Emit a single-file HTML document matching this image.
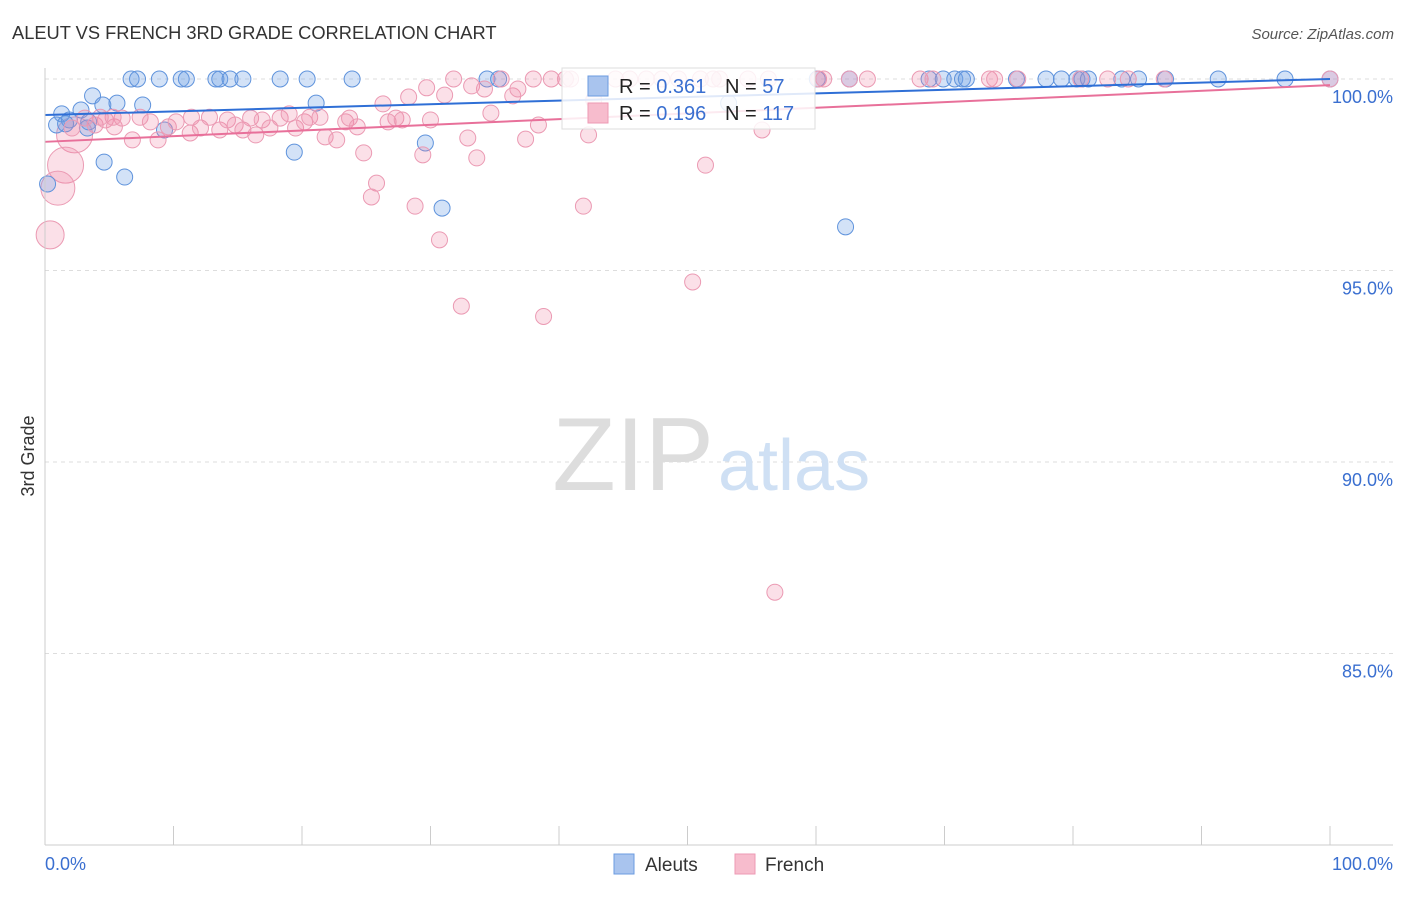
<!DOCTYPE html>
<html><head><meta charset="utf-8"><style>
body{margin:0;background:#fff;font-family:"Liberation Sans",sans-serif}
svg text{font-family:"Liberation Sans",sans-serif}
</style></head><body>
<svg id="chart" width="1406" height="892" viewBox="0 0 1406 892" xmlns="http://www.w3.org/2000/svg">
<text x="12" y="39" font-size="18.3" fill="#333">ALEUT VS FRENCH 3RD GRADE CORRELATION CHART</text>
<text x="1394" y="39" font-size="15" fill="#555" text-anchor="end" font-style="italic">Source: ZipAtlas.com</text>
<text x="34" y="456" font-size="18" fill="#333" text-anchor="middle" transform="rotate(-90 34 456)">3rd Grade</text>
<g id="grid"></g>
<text x="714" y="490" font-size="104" fill="#ddd" text-anchor="end" font-family="Liberation Serif">ZIP</text>
<text x="718" y="490" font-size="72" fill="#cfe0f4">atlas</text>
<g id="pts"></g>
<g id="lines"></g>
<g>
<rect x="562" y="68" width="253" height="61" fill="#fff" fill-opacity="0.85" stroke="#ddd"/>
<rect x="588" y="76" width="20" height="20" fill="#a9c4ee" stroke="#6b9be0"/>
<text x="619" y="93" font-size="20" fill="#222">R = <tspan fill="#3a6fd0">0.361</tspan></text>
<text x="725" y="93" font-size="20" fill="#222">N = <tspan fill="#3a6fd0"> 57</tspan></text>
<rect x="588" y="103" width="20" height="20" fill="#f7bccd" stroke="#ee9ab4"/>
<text x="619" y="120" font-size="20" fill="#222">R = <tspan fill="#3a6fd0">0.196</tspan></text>
<text x="725" y="120" font-size="20" fill="#222">N = <tspan fill="#3a6fd0">117</tspan></text>
</g>
<line x1="45" y1="68" x2="45" y2="845" stroke="#ccc"/>
<line x1="45" y1="845" x2="1393" y2="845" stroke="#ccc"/>
<g id="xt"></g>
<text x="45" y="870" font-size="18" fill="#3a6fd0">0.0%</text>
<text x="1393" y="870" font-size="18" fill="#3a6fd0" text-anchor="end">100.0%</text>
<rect x="614" y="854" width="20" height="20" fill="#a9c4ee" stroke="#6b9be0"/>
<text x="645" y="871" font-size="19" fill="#333">Aleuts</text>
<rect x="735" y="854" width="20" height="20" fill="#f7bccd" stroke="#ee9ab4"/>
<text x="765" y="871" font-size="19" fill="#333">French</text>
</svg>
<script>
const yTicks=[100,95,90,85];
const yTickLabels=["100.0%","95.0%","90.0%","85.0%"];
const xTicks=[0,10,20,30,40,50,60,70,80,90,100];
const aleutX=[6.7,7.2,8.9,10.6,11.0,13.3,13.6,14.4,15.4,18.3,20.4,23.9,34.4,35.3,60.1,62.6,68.8,69.9,70.8,71.4,71.7,75.6,77.9,79.1,80.3,80.7,81.2,83.8,85.1,87.2,91.3,96.5,100,
3.7,1.3,2.8,4.5,5.6,7.6,0.9,1.9,3.3,9.3,21.1,19.4,29.6,4.6,6.2,0.2,30.9,62.3,53.2,1.6,3.4];
const aleutY=[100,100,100,100,100,100,100,100,100,100,100,100,100,100,100,100,100,100,100,100,100,100,100,100,100,100,100,100,100,100,100,100,100,
99.56,99.09,99.19,99.32,99.37,99.32,98.8,98.93,98.72,98.67,99.37,98.09,98.33,97.83,97.44,97.26,96.63,96.14,99.37,98.83,98.88];
const frenchX=[31.8,35.5,38.0,39.4,40.5,40.9,44.4,45.5,46.8,48.0,49.3,51.0,52.0,52.5,54.7,56.3,60.2,60.6,62.6,64.0,68.1,69.1,73.5,73.9,75.7,80.6,82.7,84.3,87.1,100,
28.3,29.7,31.1,33.2,34.2,36.4,36.8,42.7,26.3,34.7,55.8,42.3,37.4,38.4,32.9,51.4,41.9,50.4,56.8,38.8,32.4,30.7,28.8,25.8,25.4,24.8,29.4,33.6,30.0,27.3,
3.9,4.7,5.4,6.0,6.8,7.4,8.2,8.8,9.6,10.2,11.3,11.4,12.1,12.8,13.6,14.2,14.8,15.4,16.0,16.4,16.9,17.5,18.3,19.0,19.5,20.2,20.6,21.4,21.8,22.7,23.4,23.7,24.3,26.7,27.8,5.3,3.1,4.3,2.1];
const frenchY=[100,100,100,100,100,100,100,100,100,100,100,100,100,100,100,100,100,100,100,100,100,100,100,100,100,100,100,100,100,100,
99.53,99.77,99.58,99.82,99.74,99.56,99.74,99.45,99.35,99.11,98.67,98.54,98.43,98.8,98.46,97.75,96.68,94.7,86.6,93.8,94.07,95.8,96.68,97.28,96.92,98.07,98.02,97.94,98.93,98.98,
98.8,98.93,98.75,98.98,98.41,99.0,98.88,98.41,98.75,98.88,98.59,99.0,98.72,99.0,98.67,98.93,98.8,98.67,98.98,98.54,98.93,98.72,98.98,99.09,98.72,98.88,99.0,99.0,98.49,98.41,98.88,98.98,98.75,98.88,98.93,99.0,98.98,99.0,98.72];
const frenchBigX=[2.3,1.6,1.0,0.4];
const frenchBigY=[98.54,97.75,97.15,95.93];
const frenchBigR=[18,18,17,14];
const aleutTrend=[99.06,100.0];
const frenchTrend=[98.36,99.84];
const NS="http://www.w3.org/2000/svg";
const xs=v=>45+v*12.85;
const ys=v=>79+(100-v)*38.3;
function mk(tag,attrs,parent){const e=document.createElementNS(NS,tag);for(const k in attrs)e.setAttribute(k,attrs[k]);parent.appendChild(e);return e;}
const grid=document.getElementById('grid');
yTicks.forEach((t,i)=>{
 const l=mk('line',{x1:45,x2:1393,y1:ys(t),y2:ys(t),stroke:'#ddd','stroke-dasharray':'4,4'},grid);
 
 
 const tx=mk('text',{x:1393,y:ys(t)+24,'font-size':18,fill:'#3a6fd0','text-anchor':'end'},grid);
 tx.textContent=yTickLabels[i];
 
 
});
const xt=document.getElementById('xt');
xTicks.forEach(t=>{
 const l=mk('line',{x1:xs(t),x2:xs(t),y1:826,y2:845,stroke:'#ccc'},xt);
 
 
});
const pts=document.getElementById('pts');
frenchBigX.forEach((x,i)=>{
 const c=mk('circle',{cx:xs(x),cy:ys(frenchBigY[i]),r:frenchBigR[i],fill:'rgba(240,130,165,0.25)',stroke:'#eb9ab3'},pts);
 
 
});
aleutX.forEach((x,i)=>{
 const c=mk('circle',{cx:xs(x),cy:ys(aleutY[i]),r:8,fill:'rgba(110,160,230,0.3)',stroke:'#5f93dc'},pts);
 
 
});
frenchX.forEach((x,i)=>{
 const c=mk('circle',{cx:xs(x),cy:ys(frenchY[i]),r:8,fill:'rgba(240,130,165,0.25)',stroke:'#eb9ab3'},pts);
 
 
});
const lines=document.getElementById('lines');
const bl=mk('line',{x1:xs(0),y1:ys(aleutTrend[0]),x2:xs(100),y2:ys(aleutTrend[1]),stroke:'#2f6fd6','stroke-width':2},lines);


const pl=mk('line',{x1:xs(0),y1:ys(frenchTrend[0]),x2:xs(100),y2:ys(frenchTrend[1]),stroke:'#e8709a','stroke-width':2},lines);


</script>
</body></html>
